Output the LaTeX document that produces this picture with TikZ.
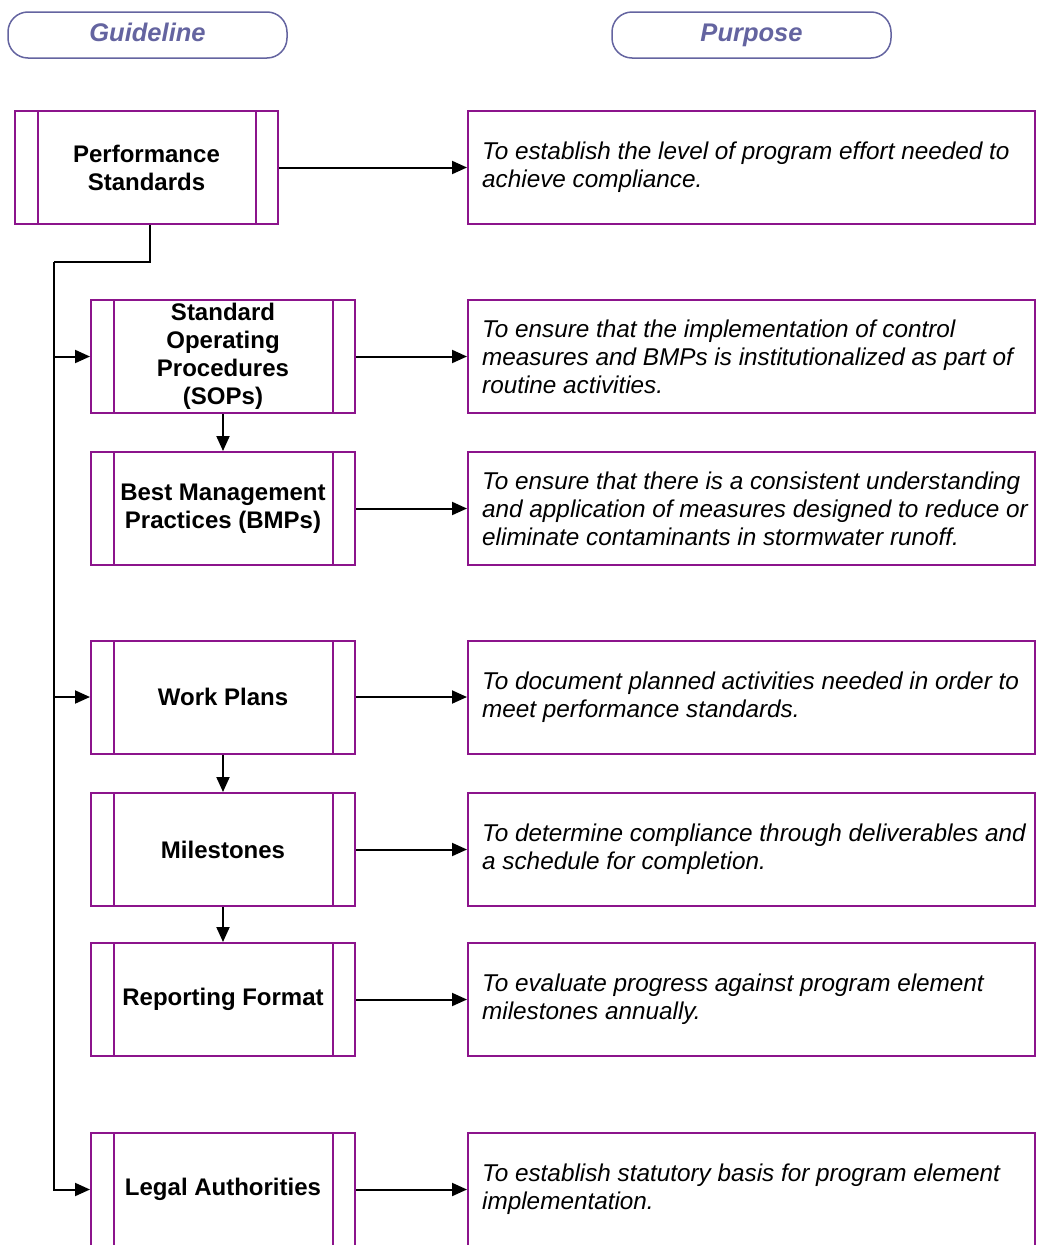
\documentclass[tikz,border=0pt]{standalone}
\usepackage{fontspec}
\setmainfont{Liberation Sans}
\usetikzlibrary{arrows.meta}
\definecolor{pp}{RGB}{140, 20, 140}
\definecolor{hd}{RGB}{100, 100, 160}

\begin{document}
\begin{tikzpicture}[
  every node/.style={inner sep=0pt},
  head/.style={draw=hd, line width=1.5pt, rounded corners=20pt, minimum width=279pt, minimum height=46pt, text=hd, text height=18.5pt, text depth=5.5pt, font=\fontsize{25.5}{30}\selectfont\bfseries\itshape},
  stdbox/.style={draw=pp, line width=2pt, minimum width=264pt, minimum height=113pt, align=center, font=\fontsize{24}{28}\selectfont\bfseries,
    path picture={\draw[pp, line width=1.5pt] ([xshift=23pt]path picture bounding box.north west) -- ([xshift=23pt]path picture bounding box.south west)
      ([xshift=-22pt]path picture bounding box.north east) -- ([xshift=-22pt]path picture bounding box.south east);}},
  purp/.style={draw=pp, line width=2pt, minimum width=567pt, minimum height=113pt},
  ptext/.style={anchor=west, align=left, font=\fontsize{24.3}{28}\selectfont\itshape},
  wire/.style={line width=2pt},
  link/.style={line width=2pt, -{Triangle[length=15pt,width=13pt]}}
]
\path[use as bounding box, clip] (0pt, 0pt) rectangle (1037pt, -1245pt);

% headers
\node (h1) [head] at (147.5pt, -35pt) {Guideline};
\node (h2) [head] at (751.5pt, -35pt) {Purpose};

% guideline boxes
\node (1) [stdbox, minimum width=263pt] at (146.5pt, -167.5pt) {Performance\\Standards};
\node (2) [stdbox] at (223pt, -356.5pt) {Standard\\Operating\\Procedures\\(SOPs)};
\node (3) [stdbox] at (223pt, -508.5pt) {Best Management\\Practices (BMPs)};
\node (4) [stdbox] at (223pt, -697pt) {Work Plans};
\node (5) [stdbox] at (223pt, -849.5pt) {Milestones};
\node (6) [stdbox] at (223pt, -999.5pt) {Reporting Format};
\node (7) [stdbox] at (223pt, -1189.5pt) {Legal Authorities};

% purpose boxes
\node (8) [purp] at (751.5pt, -167.5pt) {};
\node (9) [purp] at (751.5pt, -356.5pt) {};
\node (10) [purp] at (751.5pt, -508.5pt) {};
\node (11) [purp] at (751.5pt, -697pt) {};
\node (12) [purp] at (751.5pt, -849.5pt) {};
\node (13) [purp] at (751.5pt, -999.5pt) {};
\node (14) [purp] at (751.5pt, -1189.5pt) {};

\node (t8) [ptext] at ([xshift=15pt]8.west) {To establish the level of program effort needed to\\achieve compliance.};
\node (t9) [ptext] at ([xshift=15pt]9.west) {To ensure that the implementation of control\\measures and BMPs is institutionalized as part of\\routine activities.};
\node (t10) [ptext] at ([xshift=15pt]10.west) {To ensure that there is a consistent understanding\\and application of measures designed to reduce or\\eliminate contaminants in stormwater runoff.};
\node (t11) [ptext] at ([xshift=15pt]11.west) {To document planned activities needed in order to\\meet performance standards.};
\node (t12) [ptext] at ([xshift=15pt]12.west) {To determine compliance through deliverables and\\a schedule for completion.};
\node (t13) [ptext] at ([xshift=15pt]13.west) {To evaluate progress against program element\\milestones annually.};
\node (t14) [ptext] at ([xshift=15pt]14.west) {To establish statutory basis for program element\\implementation.};

% connectors
\coordinate (bend) at (54pt, -262pt);
\draw [wire] ([xshift=3pt]1.south) |- (bend);
\draw [link] (bend) |- (2.west);
\draw [link] (bend) |- (4.west);
\draw [link] (bend) |- (7.west);
\draw [link] (2.south) -- (3.north);
\draw [link] (4.south) -- (5.north);
\draw [link] (5.south) -- (6.north);
\draw [link] (1.east) -- (8.west);
\draw [link] (2.east) -- (9.west);
\draw [link] (3.east) -- (10.west);
\draw [link] (4.east) -- (11.west);
\draw [link] (5.east) -- (12.west);
\draw [link] (6.east) -- (13.west);
\draw [link] (7.east) -- (14.west);
\end{tikzpicture}
\end{document}
